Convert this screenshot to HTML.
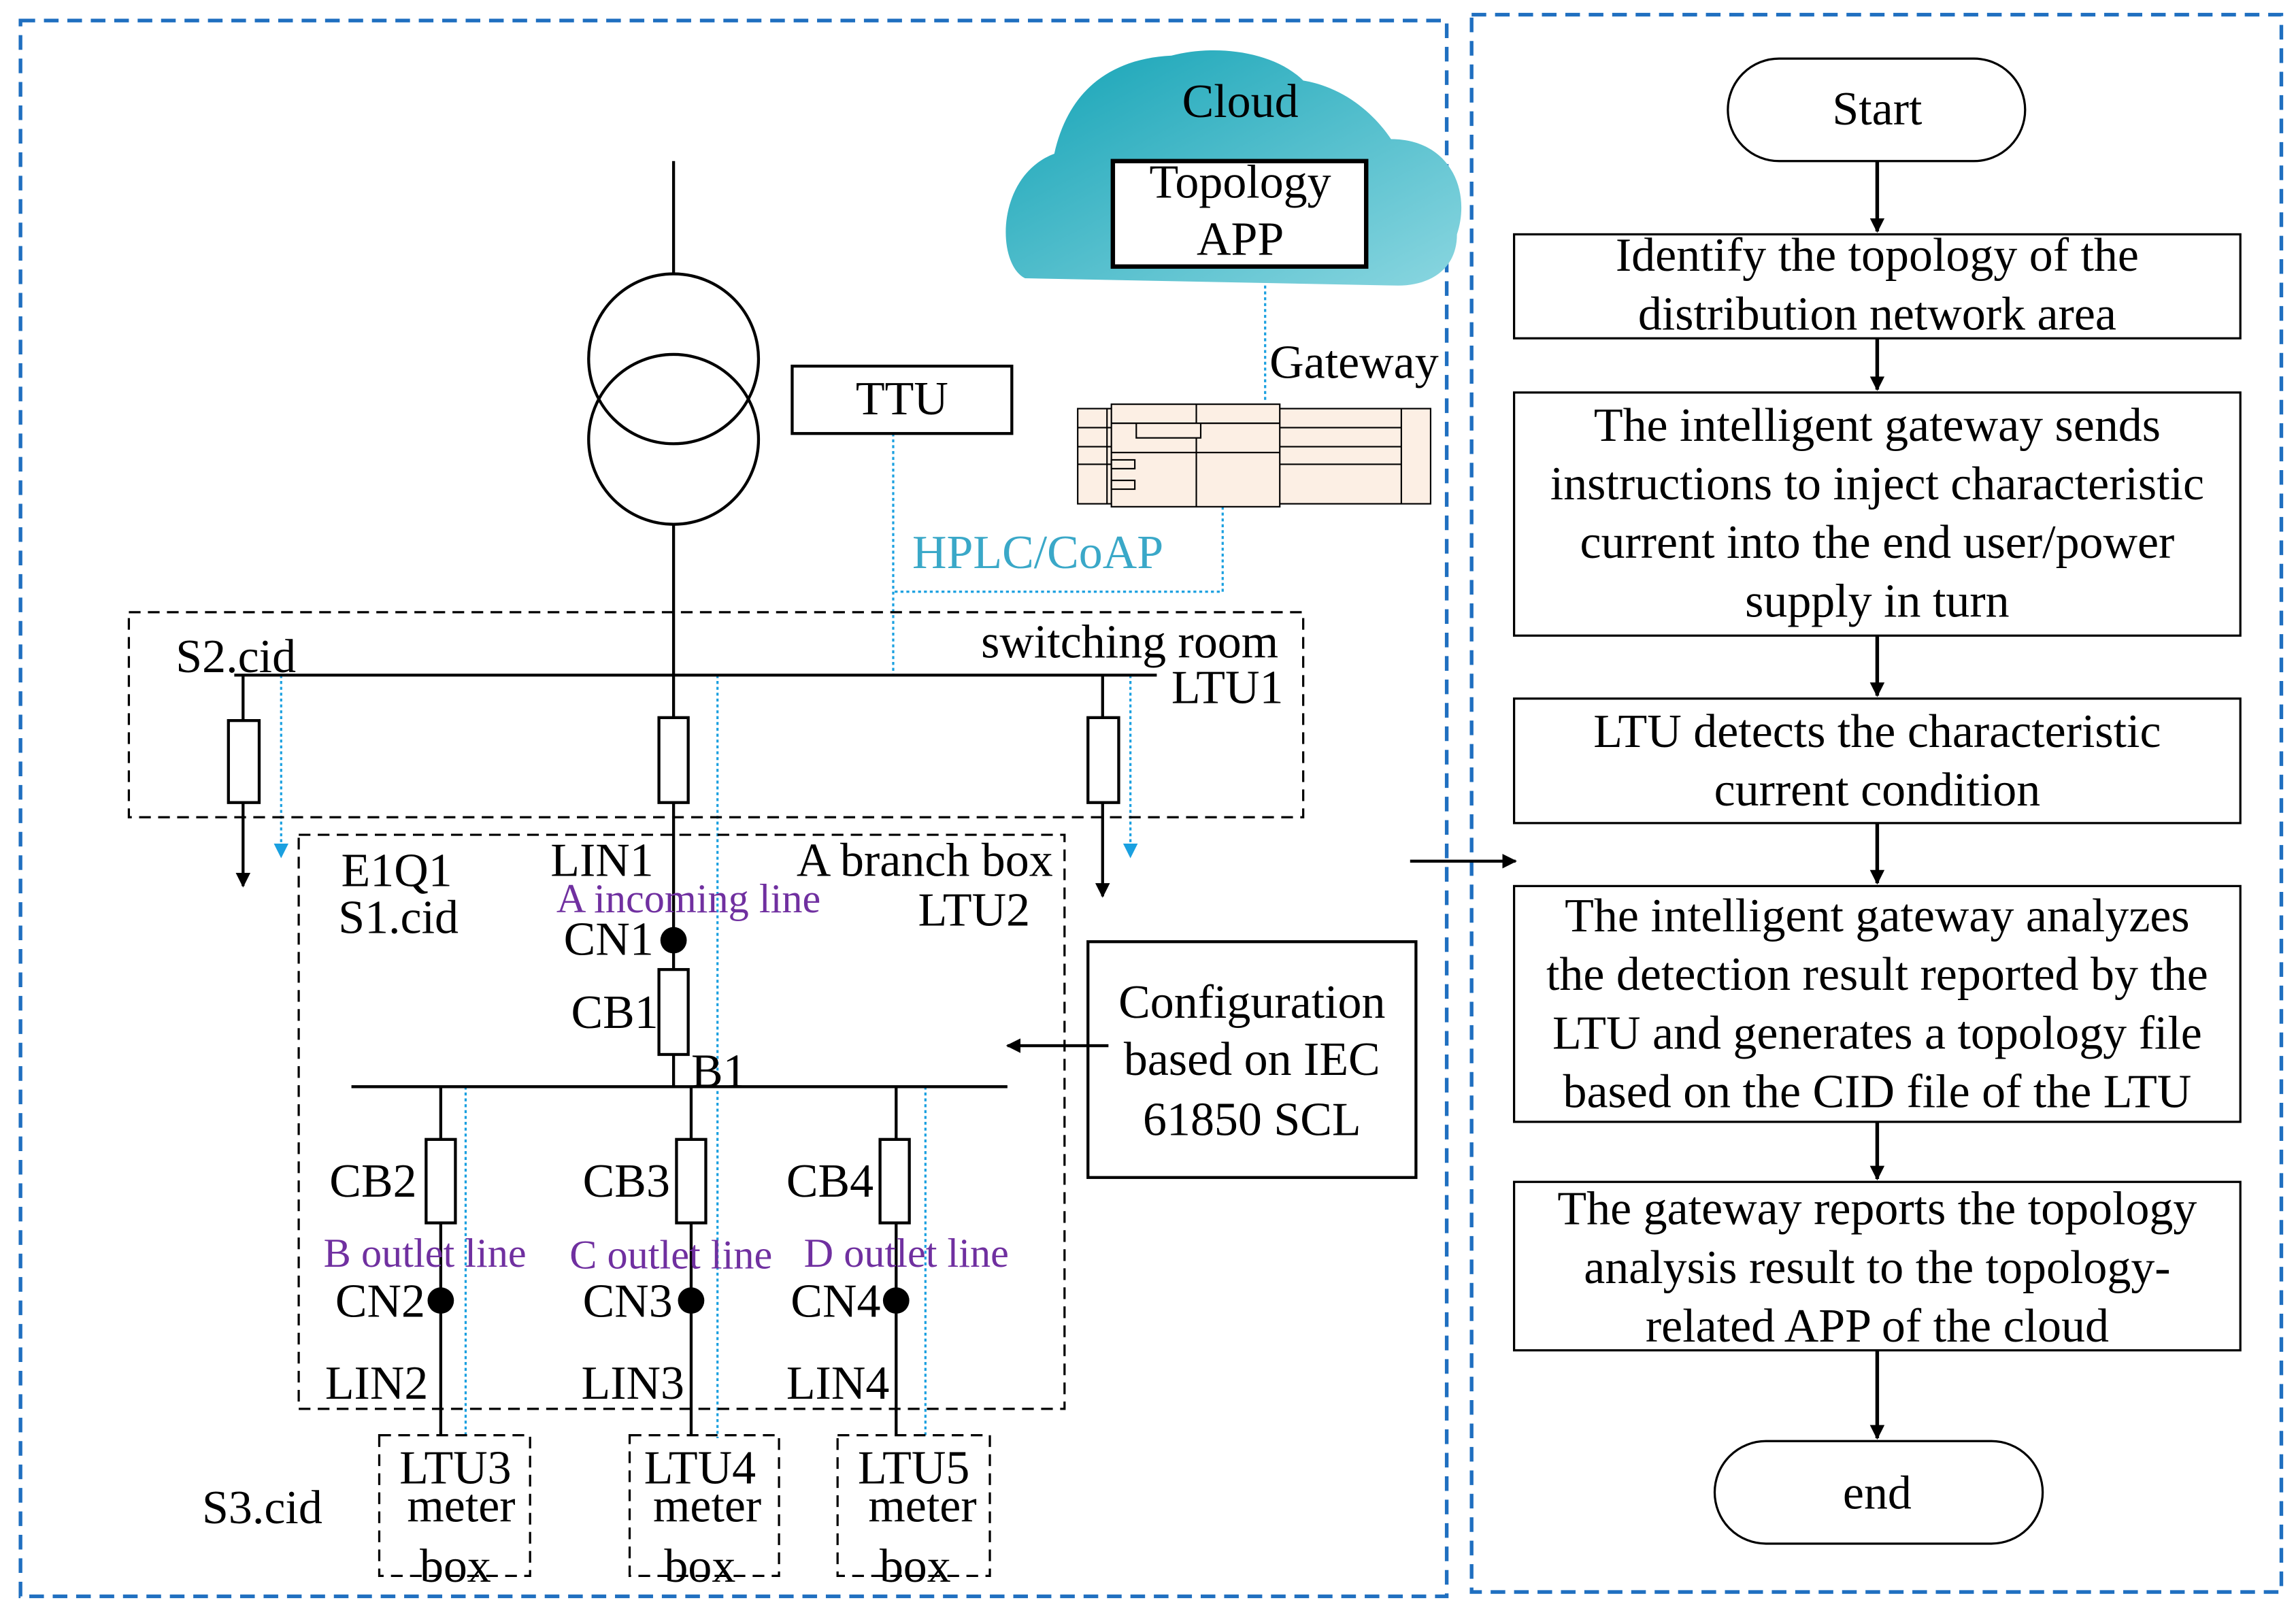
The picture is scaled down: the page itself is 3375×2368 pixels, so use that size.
<!DOCTYPE html>
<html><head><meta charset="utf-8"><style>
html,body{margin:0;padding:0;background:#fff;}
svg{display:block;}
text{font-family:"Liberation Serif",serif;font-size:32.5px;fill:#000;}
.p{fill:#7030a0;font-size:28px;}
.c{text-anchor:middle;}
</style></head><body>
<svg width="3375" height="2368" viewBox="0 0 1568 1100" preserveAspectRatio="none" xmlns="http://www.w3.org/2000/svg">
<defs>
<linearGradient id="g" x1="0" y1="0" x2="1" y2="1"><stop offset="0" stop-color="#14a3b6"/><stop offset="1" stop-color="#8ad6e0"/></linearGradient>
<marker id="a" markerWidth="10" markerHeight="10" refX="9" refY="5" orient="auto" markerUnits="userSpaceOnUse"><path d="M0,0 L10,5 L0,10 z" fill="#000"/></marker>
<marker id="ab" markerWidth="10" markerHeight="10" refX="9" refY="5" orient="auto" markerUnits="userSpaceOnUse"><path d="M0,0 L10,5 L0,10 z" fill="#1aa0e0"/></marker>
</defs>
<rect x="14" y="14" width="974" height="1076" fill="none" stroke="#1f6fc0" stroke-width="2.5" stroke-dasharray="10,6"/>
<rect x="1005" y="10" width="553" height="1077" fill="none" stroke="#1f6fc0" stroke-width="2.5" stroke-dasharray="10,6"/>
<path d="M700,190 C680,180 680,120 720,105 C730,60 760,40 800,38 C830,30 870,35 890,55 C920,60 940,80 950,95 C990,95 1005,130 995,160 C995,185 975,195 955,195 Z" fill="url(#g)"/>
<text x="847" y="80" class="c">Cloud</text>
<rect x="760" y="110" width="173" height="72" fill="#fff" stroke="#000" stroke-width="3"/>
<text x="847" y="135" class="c">Topology</text>
<text x="847" y="174" class="c">APP</text>
<g stroke="#1aa0e0" stroke-width="1.5" stroke-dasharray="2,2" fill="none">
<line x1="864" y1="195" x2="864" y2="274"/>
<line x1="610" y1="296" x2="610" y2="461"/>
<polyline points="835,346 835,404 610,404"/>
<line x1="192" y1="461" x2="192" y2="585" marker-end="url(#ab)"/>
<line x1="772" y1="461" x2="772" y2="585" marker-end="url(#ab)"/>
<line x1="490" y1="461" x2="490" y2="982"/>
<line x1="318" y1="742" x2="318" y2="982"/>
<line x1="632" y1="742" x2="632" y2="982"/>
</g>
<text x="867" y="258">Gateway</text>
<g stroke="#000" stroke-width="1" fill="#fcefe4">
<rect x="736" y="279" width="241" height="65"/>
<rect x="759" y="276" width="115" height="70"/>
<line x1="756" y1="279" x2="756" y2="344"/><line x1="957" y1="279" x2="957" y2="344"/>
<line x1="817" y1="276" x2="817" y2="346"/>
<line x1="759" y1="289" x2="874" y2="289"/><line x1="759" y1="309" x2="874" y2="309"/>
<line x1="874" y1="292" x2="957" y2="292"/><line x1="874" y1="305" x2="957" y2="305"/><line x1="874" y1="317" x2="957" y2="317"/>
<line x1="736" y1="292" x2="759" y2="292"/><line x1="736" y1="305" x2="759" y2="305"/><line x1="736" y1="317" x2="759" y2="317"/>
<rect x="776" y="289" width="44" height="10"/>
<rect x="759" y="314" width="16" height="6"/><rect x="759" y="328" width="16" height="6"/>
</g>
<text x="623" y="388" style="fill:#3aa8c8">HPLC/CoAP</text>
<rect x="541" y="250" width="150" height="46" fill="#fff" stroke="#000" stroke-width="2"/>
<text x="616" y="283" class="c">TTU</text>
<g stroke="#000" stroke-width="2" fill="none">
<circle cx="460" cy="245" r="58"/><circle cx="460" cy="300" r="58"/>
<line x1="460" y1="110" x2="460" y2="187"/>
<line x1="460" y1="358" x2="460" y2="490"/>
<line x1="460" y1="548" x2="460" y2="662"/>
<line x1="460" y1="720" x2="460" y2="742"/>
<rect x="88" y="418" width="802" height="140" stroke-width="1.5" stroke-dasharray="8,5"/>
<line x1="160" y1="461" x2="790" y2="461"/>
<rect x="450" y="490" width="20" height="58" fill="#fff"/>
<line x1="166" y1="461" x2="166" y2="492"/><rect x="156" y="492" width="21" height="56" fill="#fff"/>
<line x1="166" y1="548" x2="166" y2="605" marker-end="url(#a)"/>
<line x1="753" y1="461" x2="753" y2="490"/><rect x="743" y="490" width="21" height="58" fill="#fff"/>
<line x1="753" y1="548" x2="753" y2="612" marker-end="url(#a)"/>
<rect x="204" y="570" width="523" height="392" stroke-width="1.5" stroke-dasharray="8,5"/>
<rect x="450" y="662" width="20" height="58" fill="#fff"/>
<line x1="240" y1="742" x2="688" y2="742"/>
<line x1="301" y1="742" x2="301" y2="980"/><rect x="291" y="778" width="20" height="57" fill="#fff"/>
<line x1="472" y1="742" x2="472" y2="980"/><rect x="462" y="778" width="20" height="57" fill="#fff"/>
<line x1="612" y1="742" x2="612" y2="980"/><rect x="601" y="778" width="20" height="57" fill="#fff"/>
<rect x="259" y="980" width="103" height="96" stroke-width="1.5" stroke-dasharray="8,5"/>
<rect x="430" y="980" width="102" height="96" stroke-width="1.5" stroke-dasharray="8,5"/>
<rect x="572" y="980" width="104" height="96" stroke-width="1.5" stroke-dasharray="8,5"/>
<rect x="743" y="643" width="224" height="161"/>
<line x1="757" y1="714" x2="688" y2="714" marker-end="url(#a)"/>
<line x1="963" y1="588" x2="1035" y2="588" marker-end="url(#a)"/>
</g>
<g fill="#000"><circle cx="460" cy="642" r="9"/><circle cx="301" cy="888" r="9"/><circle cx="472" cy="888" r="9"/><circle cx="612" cy="888" r="9"/></g>
<text x="120" y="459">S2.cid</text>
<text x="670" y="449">switching room</text>
<text x="800" y="480">LTU1</text>
<text x="233" y="605">E1Q1</text>
<text x="231" y="637">S1.cid</text>
<text x="376" y="598">LIN1</text>
<text x="380" y="623" class="p">A incoming line</text>
<text x="385" y="652">CN1</text>
<text x="544" y="598">A branch box</text>
<text x="627" y="632">LTU2</text>
<text x="390" y="702">CB1</text>
<text x="472" y="742">B1</text>
<text x="225" y="817">CB2</text><text x="398" y="817">CB3</text><text x="537" y="817">CB4</text>
<text x="221" y="865" class="p">B outlet line</text><text x="389" y="866" class="p">C outlet line</text><text x="549" y="865" class="p">D outlet line</text>
<text x="229" y="899">CN2</text><text x="398" y="899">CN3</text><text x="540" y="899">CN4</text>
<text x="222" y="955">LIN2</text><text x="397" y="955">LIN3</text><text x="537" y="955">LIN4</text>
<text x="138" y="1040">S3.cid</text>
<text x="311" y="1013" class="c">LTU3</text><text x="315" y="1039" class="c">meter</text><text x="311" y="1080" class="c">box</text>
<text x="478" y="1013" class="c">LTU4</text><text x="483" y="1039" class="c">meter</text><text x="478" y="1080" class="c">box</text>
<text x="624" y="1013" class="c">LTU5</text><text x="630" y="1039" class="c">meter</text><text x="625" y="1080" class="c">box</text>
<text x="855" y="695" class="c">Configuration</text>
<text x="855" y="734" class="c">based on IEC</text>
<text x="855" y="775" class="c">61850 SCL</text>
<g stroke="#000" stroke-width="1.5" fill="#fff">
<rect x="1180" y="40" width="203" height="70" rx="35"/>
<rect x="1171" y="984" width="224" height="70" rx="35"/>
<rect x="1034" y="160" width="496" height="71"/>
<rect x="1034" y="268" width="496" height="166"/>
<rect x="1034" y="477" width="496" height="85"/>
<rect x="1034" y="605" width="496" height="161"/>
<rect x="1034" y="807" width="496" height="115"/>
</g>
<g stroke="#000" stroke-width="2.5">
<line x1="1282" y1="110" x2="1282" y2="158" marker-end="url(#a)"/>
<line x1="1282" y1="231" x2="1282" y2="266" marker-end="url(#a)"/>
<line x1="1282" y1="434" x2="1282" y2="475" marker-end="url(#a)"/>
<line x1="1282" y1="562" x2="1282" y2="603" marker-end="url(#a)"/>
<line x1="1282" y1="766" x2="1282" y2="805" marker-end="url(#a)"/>
<line x1="1282" y1="922" x2="1282" y2="982" marker-end="url(#a)"/>
</g>
<text x="1282" y="85" class="c">Start</text>
<text x="1282" y="1030" class="c">end</text>
<text x="1282" y="185" class="c">Identify the topology of the</text>
<text x="1282" y="225" class="c">distribution network area</text>
<text x="1282" y="301" class="c">The intelligent gateway sends</text>
<text x="1282" y="341" class="c">instructions to inject characteristic</text>
<text x="1282" y="381" class="c">current into the end user/power</text>
<text x="1282" y="421" class="c">supply in turn</text>
<text x="1282" y="510" class="c">LTU detects the characteristic</text>
<text x="1282" y="550" class="c">current condition</text>
<text x="1282" y="636" class="c">The intelligent gateway analyzes</text>
<text x="1282" y="676" class="c">the detection result reported by the</text>
<text x="1282" y="716" class="c">LTU and generates a topology file</text>
<text x="1282" y="756" class="c">based on the CID file of the LTU</text>
<text x="1282" y="836" class="c">The gateway reports the topology</text>
<text x="1282" y="876" class="c">analysis result to the topology-</text>
<text x="1282" y="916" class="c">related APP of the cloud</text>
</svg>
</body></html>
